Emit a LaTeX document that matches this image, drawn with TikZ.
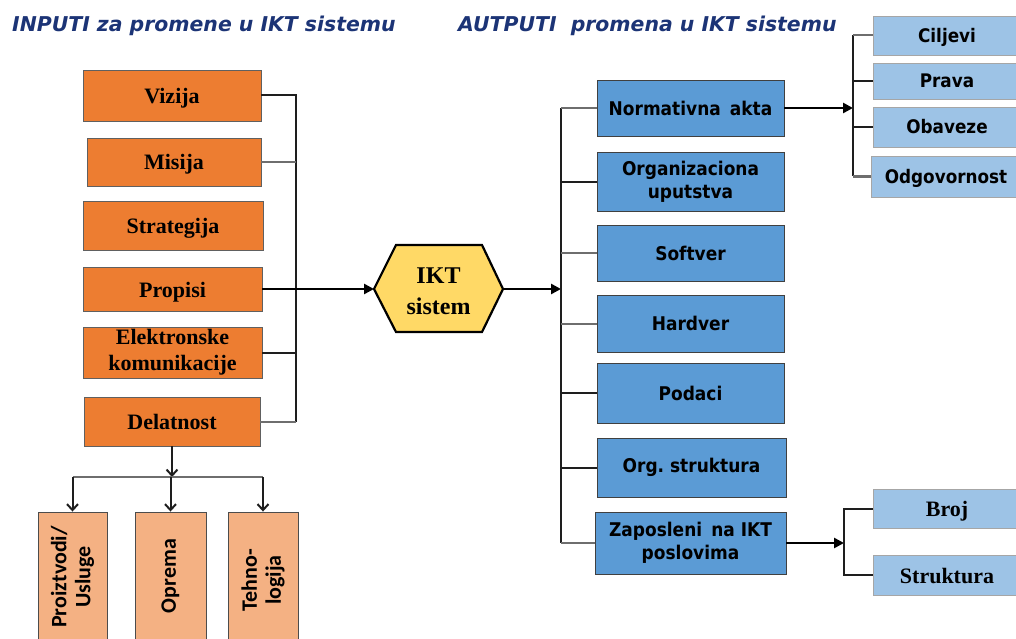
\documentclass[tikz,border=0pt]{standalone}
\usepackage{fontspec}
\setmainfont{Liberation Serif}
\newfontfamily\titlefont{DejaVu Sans}
\newfontfamily\boxsans[FakeStretch=0.9]{DejaVu Sans}
\newfontfamily\calfont{Carlito}
\usetikzlibrary{arrows.meta}

\definecolor{orng}{RGB}{237,125,49}
\definecolor{paleorng}{RGB}{244,177,131}
\definecolor{midblue}{RGB}{91,155,213}
\definecolor{paleblue}{RGB}{157,195,230}
\definecolor{hexyellow}{RGB}{255,217,102}
\definecolor{navy}{RGB}{28,52,118}
\definecolor{linedark}{RGB}{30,30,30}
\definecolor{linegray}{RGB}{110,110,110}

\tikzset{
  orangebox/.style={draw=gray!75!black, line width=0.9pt, fill=orng, align=center,
    inner sep=0pt, font=\fontsize{22}{26}\selectfont\bfseries},
  oneline/.style={text height=16pt, text depth=0pt},
  paleorangebox/.style={draw=gray!60!black, line width=0.9pt, fill=paleorng, inner sep=0pt},
  bluebox/.style={draw=gray!50!black, line width=0.9pt, fill=midblue, align=center,
    inner sep=0pt, font=\boxsans\fontsize{18.9}{23}\selectfont\bfseries},
  palebox/.style={draw=gray!70, line width=0.9pt, fill=paleblue, align=center,
    inner sep=0pt, text height=14pt, text depth=0pt,
    font=\boxsans\fontsize{18.7}{23}\selectfont\bfseries},
  paleserif/.style={palebox, text height=16pt, font=\fontsize{22}{25}\selectfont\bfseries},
  titletext/.style={anchor=base west, inner sep=0pt, text=navy,
    font=\titlefont\fontsize{20.4}{24}\selectfont\bfseries\itshape},
  vertlabel/.style={rotate=90, align=center, inner sep=0pt,
    font=\calfont\fontsize{22}{24}\selectfont\bfseries},
  conn/.style={draw=linedark, line width=2pt},
  conngray/.style={draw=linegray, line width=2pt},
  mainarrow/.style={draw=black, line width=2.5pt, -{Triangle[length=10pt,width=10pt]}},
  openarrow/.style={draw=linedark, line width=2pt, -{Straight Barb[length=6pt,width=11pt]}},
}

\begin{document}
\begin{tikzpicture}[x=1pt,y=-1pt]
\useasboundingbox (0,0) rectangle (1016,639);

% headings
\node[titletext] (tin) at (12,32) {INPUTI za promene u IKT sistemu};
\node[titletext] (tout) at (458,32) {AUTPUTI\ \ promena u IKT sistemu};

% inputs
\node[orangebox, oneline, minimum width=178pt, minimum height=51pt] (viz) at (172,95.5) {Vizija};
\node[orangebox, oneline, minimum width=174pt, minimum height=48pt] (mis) at (174,162) {Misija};
\node[orangebox, oneline, minimum width=180pt, minimum height=49pt] (str) at (173,225.5) {Strategija};
\node[orangebox, oneline, minimum width=179pt, minimum height=44pt] (pro) at (172.5,289) {Propisi};
\node[orangebox, minimum width=179pt, minimum height=51pt] (ele) at (172.5,352.5) {Elektronske\\komunikacije};
\node[orangebox, oneline, minimum width=176pt, minimum height=49pt] (del) at (172,421.5) {Delatnost};

% branches of Delatnost
\node[paleorangebox, minimum width=69pt, minimum height=136pt] (pu) at (72.5,580) {};
\node[paleorangebox, minimum width=71pt, minimum height=136pt] (op) at (170.5,580) {};
\node[paleorangebox, minimum width=70pt, minimum height=136pt] (teh) at (263,580) {};
\node[vertlabel] (pul) at (72.5,577) {Proiztvodi/\\Usluge};
\node[vertlabel] (opl) at (170.5,576) {Oprema};
\node[vertlabel] (tehl) at (263,580) {Tehno-\\logija};

% central system
\coordinate (iktw) at (374,289);
\coordinate (ikte) at (503,289);
\draw[fill=hexyellow, draw=black, line width=2.2pt, line join=miter]
  (iktw) -- (396,245) -- (482,245) -- (ikte) -- (482,332) -- (396,332) -- cycle;
\node[align=center, inner sep=0pt, font=\fontsize{24}{31}\selectfont\bfseries] (ikt) at (438.5,291) {IKT\\sistem};

% outputs
\node[bluebox, minimum width=187pt, minimum height=56pt] (na) at (690.5,108) {Normativna\ \,akta};
\node[bluebox, minimum width=187pt, minimum height=59pt] (ou) at (690.5,181.5) {Organizaciona\\uputstva};
\node[bluebox, minimum width=187pt, minimum height=56pt] (sof) at (690.5,253) {Softver};
\node[bluebox, minimum width=187pt, minimum height=57pt] (har) at (690.5,323.5) {Hardver};
\node[bluebox, minimum width=187pt, minimum height=60pt] (pod) at (690.5,393) {Podaci};
\node[bluebox, minimum width=189pt, minimum height=59pt] (org) at (691.5,467.5) {Org.\ struktura};
\node[bluebox, minimum width=191pt, minimum height=62pt] (zap) at (690.5,543) {Zaposleni\ \,na IKT\\poslovima};

% details of Normativna akta
\node[palebox, minimum width=148pt, minimum height=39pt] (cil) at (947,35.5) {Ciljevi};
\node[palebox, minimum width=148pt, minimum height=36pt] (pra) at (947,81) {Prava};
\node[palebox, minimum width=148pt, minimum height=40pt] (oba) at (947,127) {Obaveze};
\node[palebox, minimum width=150pt, minimum height=41pt] (odg) at (946,176.5) {Odgovornost};

% details of Zaposleni
\node[paleserif, minimum width=148pt, minimum height=39pt] (broj) at (947,508.5) {Broj};
\node[paleserif, minimum width=148pt, minimum height=40pt] (stru) at (947,575) {Struktura};

% bracket positions
\coordinate (lbx) at (296,0);
\coordinate (rbx) at (561,0);
\coordinate (tbx) at (853,0);
\coordinate (bbx) at (844,0);
\coordinate (split) at (0,477);

% input bracket
\draw[conn] (viz.east) -- (viz.east -| lbx) -- (del.east -| lbx);
\draw[conngray] (del.east -| lbx) -- (del.east);
\draw[conngray] (mis.east) -- (mis.east -| lbx);
\draw[conn] (ele.east) -- (ele.east -| lbx);
\draw[mainarrow] (pro.east) -- (iktw);

% Delatnost split
\draw[openarrow] (del.south) -- (del.south |- split);
\draw[conngray] (pu.north |- split) -- (teh.north |- split);
\draw[openarrow] (pu.north |- split) -- (pu.north);
\draw[openarrow] (op.north |- split) -- (op.north);
\draw[openarrow] (teh.north |- split) -- (teh.north);

% output bracket
\draw[mainarrow] (ikte) -- (ikte -| rbx);
\draw[conn] (na.west -| rbx) -- (zap.west -| rbx);
\draw[conngray] (na.west) -- (na.west -| rbx);
\draw[conn] (ou.west) -- (ou.west -| rbx);
\draw[conngray] (sof.west) -- (sof.west -| rbx);
\draw[conngray] (har.west) -- (har.west -| rbx);
\draw[conn] (pod.west) -- (pod.west -| rbx);
\draw[conn] (org.west) -- (org.west -| rbx);
\draw[conngray] (zap.west) -- (zap.west -| rbx);

% Normativna akta bracket
\draw[mainarrow] (na.east) -- (na.east -| tbx);
\draw[conn] (cil.west -| tbx) -- (odg.west -| tbx);
\draw[conngray] (cil.west) -- (cil.west -| tbx);
\draw[conn] (pra.west) -- (pra.west -| tbx);
\draw[conn] (oba.west) -- (oba.west -| tbx);
\draw[conngray] (odg.west) -- (odg.west -| tbx);

% Zaposleni bracket
\draw[mainarrow] (zap.east) -- (zap.east -| bbx);
\draw[conn] (broj.west) -- (broj.west -| bbx) -- (stru.west -| bbx) -- (stru.west);
\end{tikzpicture}
\end{document}
